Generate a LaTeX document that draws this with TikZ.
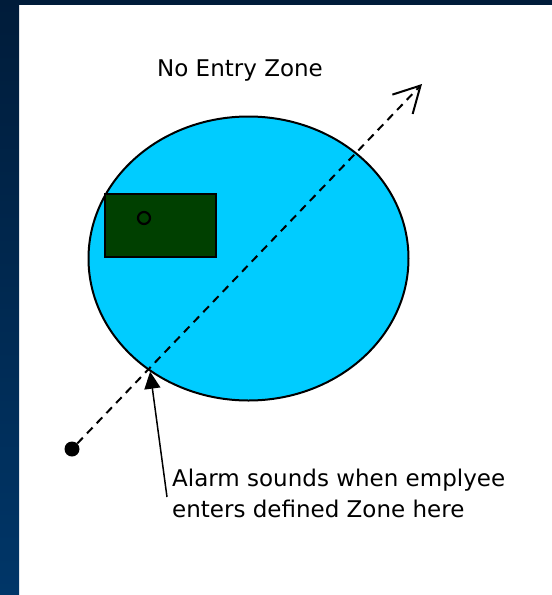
\documentclass[tikz,border=0pt]{standalone}
\usepackage{fontspec}
\setmainfont{DejaVu Sans}
\usetikzlibrary{shapes.geometric,arrows.meta}
\definecolor{zoneCyan}{HTML}{00CCFF}
\definecolor{roomGreen}{HTML}{004000}
\definecolor{bandNavy}{HTML}{001C3A}
\definecolor{bandNavyL}{HTML}{003668}

\begin{document}
\begin{tikzpicture}[x=1pt,y=-1pt,
  zone/.style={ellipse,draw=black,line width=2pt,fill=zoneCyan,
               minimum width=320pt,minimum height=284pt,inner sep=0pt},
  room/.style={draw=black,line width=2pt,fill=roomGreen,
               minimum width=111pt,minimum height=63pt,inner sep=0pt},
  tag/.style={circle,draw=black,line width=2.2pt,minimum size=12pt,inner sep=0pt},
  dot/.style={circle,fill=black,minimum size=15pt,inner sep=0pt},
  lbl/.style={font=\fontsize{23}{31}\selectfont,inner sep=0pt,align=left},
  walk/.style={-{Straight Barb[length=26pt,width=28pt]},line width=2pt,
               dash pattern=on 8pt off 6pt},
  arr/.style={-{Triangle[length=17pt,width=16pt]},line width=1.5pt}]
  \useasboundingbox (0,0) rectangle (552,595);
  \fill[white] (0,0) rectangle (552,595);
  \shade[top color=bandNavy,bottom color=bandNavyL] (0,0) rectangle (19,595);
  \fill[bandNavy] (0,0) rectangle (552,5);

  \node[lbl,anchor=base] (title) at (240,76) {No Entry Zone};
  \node[zone] (zone) at (248.5,258.5) {};
  \node[room] (room) at (160,225) {};
  \node[tag] (tag) at (144,218) {};
  \node[dot] (start) at (72,449) {};
  \coordinate (aim) at (422,84);
  \draw[walk] (start) -- (aim);

  \node[lbl,anchor=base west] (note) at (172,517)
       {Alarm sounds when emplyee\\enters defined Zone here};
  \coordinate (foot) at (167,497);
  \draw[arr] (foot) -- (zone.229);
\end{tikzpicture}
\end{document}
